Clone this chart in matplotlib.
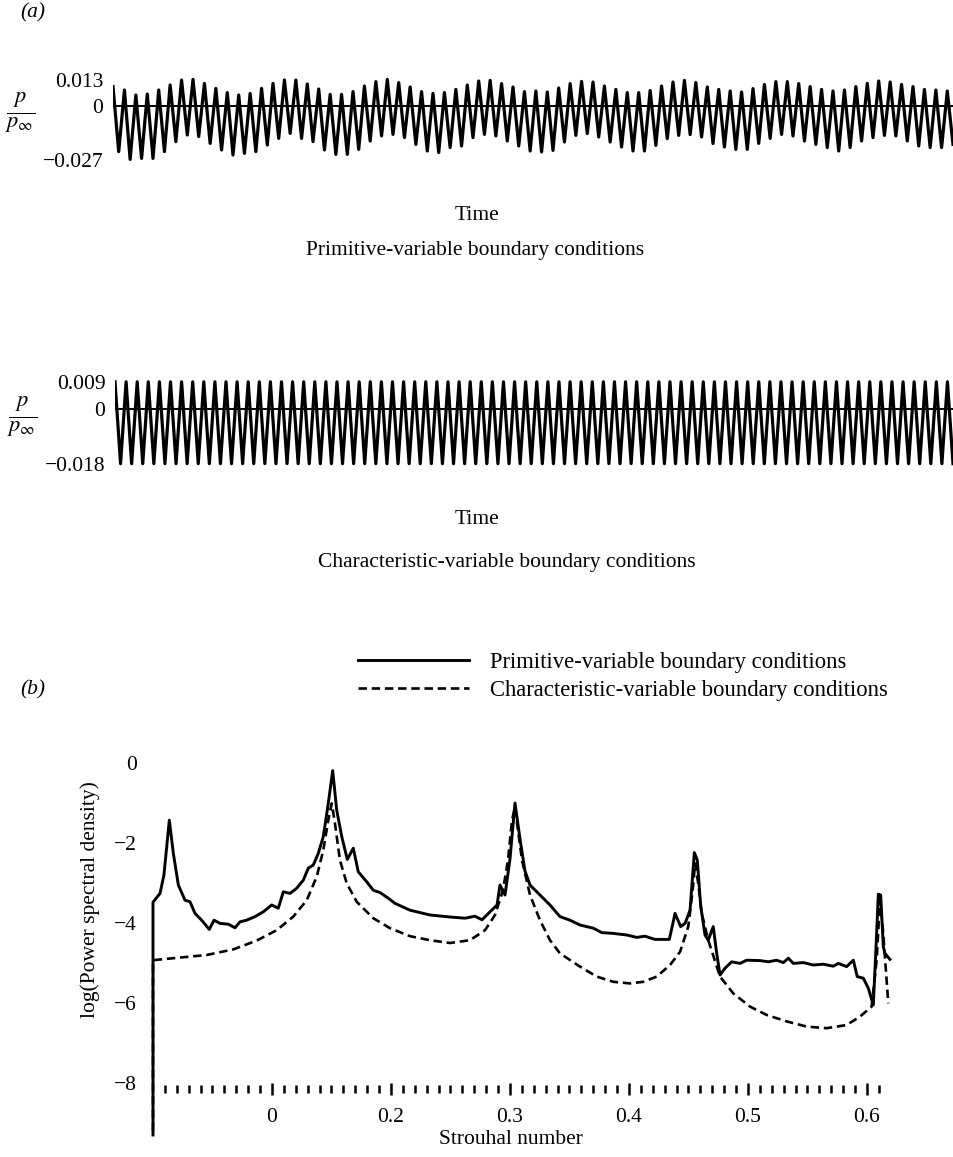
import numpy as np
import matplotlib
matplotlib.use('Agg')
import matplotlib.pyplot as plt

plt.rcParams['font.family'] = ['Liberation Serif', 'DejaVu Serif']
plt.rcParams['mathtext.fontset'] = 'stix'

# ---------------- data: (a) pressure histories (successive peaks / troughs) ----------
prim_peaks = [0.0097, 0.0080, 0.0055, 0.0060, 0.0080, 0.0105, 0.0130, 0.0133, 0.0113, 0.0088,
              0.0067, 0.0055, 0.0063, 0.0088, 0.0113, 0.0130, 0.0130, 0.0110, 0.0085,
              0.0058, 0.0058, 0.0072, 0.0100, 0.0122, 0.0133, 0.0117, 0.0095, 0.0072, 0.0063,
              0.0067, 0.0083, 0.0105, 0.0125, 0.0128, 0.0112, 0.0095, 0.0072, 0.0075,
              0.0070, 0.0090, 0.0112, 0.0123, 0.0120, 0.0100, 0.0083, 0.0067, 0.0067, 0.0078,
              0.0100, 0.0120, 0.0128, 0.0117, 0.0095, 0.0083, 0.0075, 0.0070,
              0.0087, 0.0108, 0.0122, 0.0122, 0.0112, 0.0097, 0.0083, 0.0075, 0.0080, 0.0097,
              0.0113, 0.0125, 0.0120, 0.0108, 0.0097, 0.0083, 0.0080, 0.0075]
prim_troughs = [-0.0228, -0.0267, -0.0262, -0.0262, -0.0228, -0.0178, -0.0145, -0.0153, -0.0187,
                -0.0220, -0.0245, -0.0237, -0.0228, -0.0195, -0.0162, -0.0137, -0.0162, -0.0178,
                -0.0220,
                -0.0242, -0.0242, -0.0217, -0.0175, -0.0150, -0.0142, -0.0158, -0.0192, -0.0225,
                -0.0233, -0.0208, -0.0200, -0.0158, -0.0142, -0.0150, -0.0175, -0.0200, -0.0225,
                -0.0230, -0.0222, -0.0180, -0.0147, -0.0138, -0.0155, -0.0180, -0.0205, -0.0225,
                -0.0225, -0.0197, -0.0163, -0.0147, -0.0143, -0.0155, -0.0188, -0.0205, -0.0217,
                -0.0217, -0.0187, -0.0162, -0.0142, -0.0150, -0.0175, -0.0192, -0.0208, -0.0225,
                -0.0208, -0.0175, -0.0158, -0.0147, -0.0150, -0.0175, -0.0200, -0.0208, -0.0208,
                -0.0192]
char_peaks = [0.009] * 76
char_troughs = [-0.018] * 76

prim_ticks = [-0.027, 0, 0.013]
prim_ticklabels = ['\u22120.027', '0', '0.013']
char_ticks = [-0.018, 0, 0.009]
char_ticklabels = ['\u22120.018', '0', '0.009']

# ---------------- data: (b) power spectral density ----------------
prim_st = [0.0, 0.0, 0.0059, 0.0092, 0.0137, 0.0171, 0.0213, 0.0269, 0.0311, 0.0353, 0.0409,
           0.0473, 0.0513, 0.0563, 0.0633, 0.0689, 0.0731, 0.0787, 0.0857, 0.0927, 0.0997,
           0.1053, 0.1095, 0.1151, 0.1208, 0.1263, 0.1305, 0.1347, 0.1389, 0.1431, 0.1473,
           0.1510, 0.1544, 0.1586, 0.1633, 0.1683, 0.1725, 0.1796, 0.1851, 0.1908, 0.1977,
           0.2034, 0.2160, 0.2328, 0.2496, 0.2622, 0.2706, 0.2765, 0.2832, 0.2891, 0.2916,
           0.2958, 0.3000, 0.3042, 0.3084, 0.3126, 0.3168, 0.3252, 0.3336, 0.3420, 0.3504,
           0.3588, 0.3700, 0.3771, 0.3868, 0.3981, 0.4065, 0.4134, 0.4218, 0.4339, 0.4387,
           0.4434, 0.4471, 0.4513, 0.4549, 0.4574, 0.4603, 0.4639, 0.4666, 0.4708, 0.4737,
           0.4765, 0.4807, 0.4863, 0.4933, 0.4989, 0.5101, 0.5171, 0.5241, 0.5297, 0.5339,
           0.5381, 0.5465, 0.5549, 0.5633, 0.5717, 0.5759, 0.5829, 0.5885, 0.5918, 0.5969,
           0.6011, 0.6053, 0.6076, 0.6095, 0.6115, 0.6137, 0.6151, 0.6193]
prim_psd = [-9.30, -3.48, -3.26, -2.80, -1.43, -2.26, -3.05, -3.43, -3.47, -3.76, -3.93,
            -4.16, -3.93, -4.01, -4.03, -4.12, -3.97, -3.93, -3.84, -3.72, -3.55,
            -3.63, -3.22, -3.26, -3.13, -2.93, -2.63, -2.55, -2.26, -1.84, -1.01,
            -0.19, -1.18, -1.84, -2.41, -2.13, -2.72, -2.97, -3.18, -3.24, -3.38,
            -3.51, -3.68, -3.80, -3.85, -3.88, -3.83, -3.92, -3.72, -3.55, -3.05,
            -3.30, -2.40, -1.00, -1.90, -2.70, -3.05, -3.30, -3.55, -3.84, -3.93,
            -4.05, -4.13, -4.24, -4.26, -4.30, -4.36, -4.33, -4.41, -4.41, -3.76,
            -4.09, -4.01, -3.68, -2.24, -2.43, -3.59, -4.30, -4.43, -4.09, -4.76,
            -5.30, -5.13, -4.97, -5.01, -4.93, -4.94, -4.97, -4.93, -4.99, -4.88,
            -5.01, -4.99, -5.05, -5.03, -5.08, -5.01, -5.09, -4.93, -5.34, -5.38,
            -5.63, -6.05, -4.59, -3.28, -3.30, -4.59, -4.76, -4.91]
char_st = [0.0, 0.0, 0.0171, 0.0451, 0.0675, 0.0871, 0.1039, 0.1179, 0.1292, 0.1376, 0.1431,
           0.1473, 0.1502, 0.1529, 0.1571, 0.1628, 0.1712, 0.1851, 0.1992, 0.2160, 0.2328,
           0.2496, 0.2664, 0.2790, 0.2874, 0.2941, 0.2983, 0.3017, 0.3042, 0.3067, 0.3101,
           0.3168, 0.3252, 0.3336, 0.3420, 0.3588, 0.3729, 0.3868, 0.4008, 0.4120, 0.4233,
           0.4345, 0.4429, 0.4498, 0.4535, 0.4555, 0.4582, 0.4611, 0.4666, 0.4765, 0.4876,
           0.5017, 0.5157, 0.5325, 0.5493, 0.5661, 0.5829, 0.5941, 0.6039, 0.6081, 0.6109,
           0.6132, 0.6179]
char_psd = [-9.20, -4.93, -4.88, -4.80, -4.66, -4.44, -4.18, -3.84, -3.43, -2.84, -2.18,
            -1.43, -1.01, -1.51, -2.43, -3.01, -3.47, -3.88, -4.13, -4.33, -4.43,
            -4.50, -4.43, -4.18, -3.80, -3.18, -2.43, -1.43, -1.10, -1.68, -2.43,
            -3.30, -3.93, -4.43, -4.76, -5.09, -5.34, -5.47, -5.51, -5.47, -5.34,
            -5.05, -4.72, -4.09, -3.18, -2.51, -3.01, -3.76, -4.43, -5.34, -5.76,
            -6.09, -6.30, -6.46, -6.59, -6.63, -6.55, -6.34, -6.09, -4.93, -3.43,
            -4.09, -6.01]

st_major = [0.1, 0.2, 0.3, 0.4, 0.5, 0.6]
st_major_labels = ['0', '0.2', '0.3', '0.4', '0.5', '0.6']
psd_ticks = [0, -2, -4, -6, -8]
psd_ticklabels = ['0', '\u22122', '\u22124', '\u22126', '\u22128']

legend_labels = ['Primitive-variable boundary conditions',
                 'Characteristic-variable boundary conditions']

# ---------------- figure ----------------
W, H = 954, 1157
fig = plt.figure(figsize=(W / 100, H / 100), dpi=100)
FS = 15.5


def axes_px(left, top, right, bottom):
    return fig.add_axes([left / W, 1 - bottom / H, (right - left) / W, (bottom - top) / H])


def ftext(x, y, s, **kw):
    kw.setdefault('fontsize', FS)
    kw.setdefault('ha', 'center')
    kw.setdefault('va', 'center')
    fig.text(x / W, 1 - y / H, s, **kw)


def history_panel(ax, peaks, troughs, ticks, ticklabels, ylim):
    vals = np.column_stack([peaks, troughs]).ravel()
    t = np.arange(len(vals))
    ax.plot(t, vals, color='black', lw=2.3, solid_joinstyle='round')
    ax.axhline(0, color='black', lw=1.4)
    ax.set_xlim(0, len(vals) - 1)
    ax.set_ylim(*ylim)
    for s in ax.spines.values():
        s.set_visible(False)
    ax.set_xticks([])
    ax.set_yticks(ticks)
    ax.set_yticklabels(ticklabels, fontsize=FS)
    ax.tick_params(axis='y', length=0, pad=7)


ax1 = axes_px(113, 76, 953, 164)
history_panel(ax1, prim_peaks, prim_troughs, prim_ticks, prim_ticklabels, (-0.029, 0.015))
ax2 = axes_px(115, 380, 953, 467)
history_panel(ax2, char_peaks, char_troughs, char_ticks, char_ticklabels, (-0.0191, 0.0096))

ftext(20, 113, r'$\frac{p}{p_\infty}$', fontsize=23)
ftext(22, 417, r'$\frac{p}{p_\infty}$', fontsize=23)

ftext(33, 13, '(a)', style='italic')
ftext(477, 215, 'Time')
ftext(475, 251, 'Primitive-variable boundary conditions')
ftext(477, 520, 'Time')
ftext(507, 563, 'Characteristic-variable boundary conditions')
ftext(33, 690, '(b)', style='italic')

# ---------------- (b) spectrum ----------------
ax3 = axes_px(141.1, 743, 914.6, 1143)
l1, = ax3.plot(prim_st, prim_psd, color='black', lw=2.1, solid_joinstyle='round')
l2, = ax3.plot(char_st, char_psd, color='black', lw=1.9, linestyle=(0, (3.2, 1.8)))
ax3.set_xlim(-0.01, 0.64)
ax3.set_ylim(-9.5, 0.5)
for k, s in ax3.spines.items():
    if k == 'bottom':
        s.set_position(('data', -8.15))
        s.set_color('none')
    else:
        s.set_visible(False)
ax3.set_xticks(st_major)
ax3.set_xticklabels(st_major_labels, fontsize=FS)
minor = [round(0.01 * i, 2) for i in range(1, 62) if i % 10 != 0]
ax3.set_xticks(minor, minor=True)
ax3.tick_params(axis='x', which='major', direction='inout', length=9, width=1.8, pad=9)
ax3.tick_params(axis='x', which='minor', direction='inout', length=6, width=1.8)
ax3.set_yticks(psd_ticks)
ax3.set_yticklabels(psd_ticklabels, fontsize=FS)
ax3.tick_params(axis='y', length=0, pad=3)

ftext(511, 1140, 'Strouhal number')
ftext(90, 900, 'log(Power spectral density)', rotation=90)

leg = fig.legend([l1, l2], legend_labels, loc='upper left',
                 bbox_to_anchor=(358 / W, 1 - 652 / H), frameon=False,
                 fontsize=16.3, handlelength=4.9, handletextpad=0.95,
                 labelspacing=0.3, borderpad=0, borderaxespad=0)

fig.savefig('out.png', dpi=100)
